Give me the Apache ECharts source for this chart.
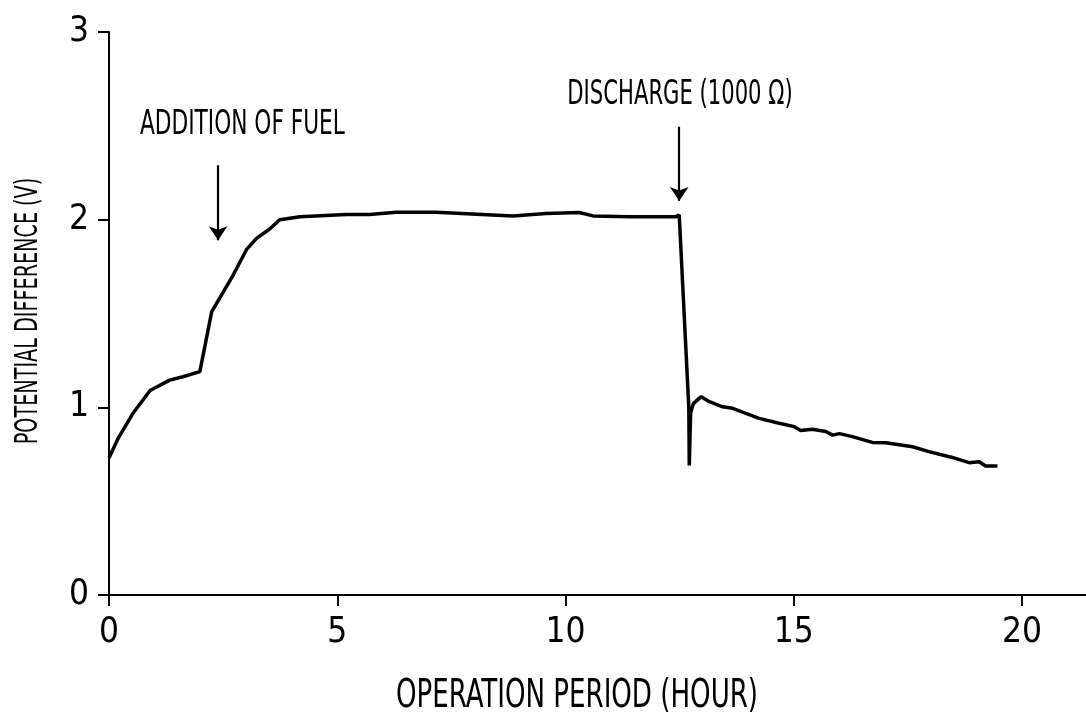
<!DOCTYPE html>
<html>
<head>
<meta charset="utf-8">
<script src="https://cdn.jsdelivr.net/npm/echarts@6/dist/echarts.min.js"></script>
<style>
  html, body { margin: 0; padding: 0; background: #fff; }
  #chart { width: 1086px; height: 723px; }
</style>
</head>
<body>
<div id="chart"></div>
<script>
// operation period (hour) / potential difference (V)
var hours = [0, 0.2, 0.53, 0.9, 1.33, 1.62, 1.99, 2.25, 2.72, 3.01, 3.23, 3.52, 3.74, 3.89, 4.18,
  5.2, 5.71, 6.29, 7.17, 8.84, 9.57, 10.3, 10.6, 11.4, 12.42, 12.49,
  12.7, 12.71, 12.74, 12.8, 12.97, 13.15, 13.44, 13.66, 14.24, 14.68, 15.01, 15.15, 15.41,
  15.7, 15.85, 16.0, 16.28, 16.72, 17.02, 17.6, 17.96, 18.47, 18.84, 19.06, 19.2, 19.46];
var volts = [0.73, 0.835, 0.97, 1.09, 1.145, 1.163, 1.19, 1.51, 1.705, 1.84, 1.9, 1.95, 2.0, 2.005, 2.016,
  2.027, 2.027, 2.04, 2.04, 2.02, 2.033, 2.038, 2.02, 2.016, 2.016, 2.025,
  1.0, 0.69, 0.97, 1.02, 1.057, 1.03, 1.003, 0.995, 0.941, 0.915, 0.897, 0.876, 0.883,
  0.871, 0.852, 0.86, 0.844, 0.813, 0.811, 0.79, 0.764, 0.733, 0.705, 0.71, 0.687, 0.687];

var xTicks = [0, 5, 10, 15, 20];

// arrows: hour, top and tip voltage
var arrowHours = [2.39, 12.49];
var arrowTop = [2.29, 2.495];
var arrowTip = [1.89, 2.1];

var FONT = "'DejaVu Sans Condensed', 'Liberation Sans Narrow', Arial, sans-serif";

var chart = echarts.init(document.getElementById("chart"));

var arrowLines = arrowHours.map(function(h, i) {
  return [{ coord: [h, arrowTop[i]] }, { coord: [h, arrowTip[i]] }];
});

var option = {
  animation: false,
  backgroundColor: "#fff",
  grid: { left: 109, right: 0, top: 32, bottom: 128 },
  xAxis: {
    type: "value",
    min: 0,
    max: 21.4,
    interval: 5,
    axisLine: { lineStyle: { color: "#000", width: 2 } },
    axisTick: { show: true, length: 11, customValues: xTicks, lineStyle: { color: "#000", width: 2 } },
    axisLabel: { customValues: xTicks, color: "#000", fontFamily: FONT, fontSize: 35, margin: 20 },
    splitLine: { show: false }
  },
  yAxis: {
    type: "value",
    min: 0,
    max: 3,
    interval: 1,
    axisLine: { show: true, lineStyle: { color: "#000", width: 2 } },
    axisTick: { show: true, length: 11, lineStyle: { color: "#000", width: 2 } },
    axisLabel: { color: "#000", fontFamily: FONT, fontSize: 35, margin: 20 },
    splitLine: { show: false }
  },
  series: [
    {
      type: "line",
      data: hours.map(function(h, i) { return [h, volts[i]]; }),
      showSymbol: false,
      smooth: false,
      lineStyle: { color: "#000", width: 3.5 },
      markLine: {
        silent: true,
        symbol: ["none", "arrow"],
        symbolSize: 14,
        label: { show: false },
        lineStyle: { color: "#000", width: 2.2, type: "solid" },
        data: arrowLines
      }
    }
  ],
  graphic: [
    {
      type: "text", x: 140, y: 125, scaleX: 0.73,
      style: { text: "ADDITION OF FUEL", font: "33px " + FONT, fill: "#000", verticalAlign: "middle" }
    },
    {
      type: "text", x: 680, y: 95, scaleX: 0.712,
      style: { text: "DISCHARGE (1000 Ω)", font: "33px " + FONT, fill: "#000", align: "center", verticalAlign: "middle" }
    },
    {
      type: "text", x: 577, y: 697, scaleX: 0.744,
      style: { text: "OPERATION PERIOD (HOUR)", font: "39px " + FONT, fill: "#000", align: "center", verticalAlign: "middle" }
    },
    {
      type: "text", x: 29, y: 311, rotation: Math.PI / 2, scaleX: 0.667,
      style: { text: "POTENTIAL DIFFERENCE (V)", font: "32px " + FONT, fill: "#000", align: "center", verticalAlign: "middle" }
    }
  ]
};

chart.setOption(option);
</script>
</body>
</html>
